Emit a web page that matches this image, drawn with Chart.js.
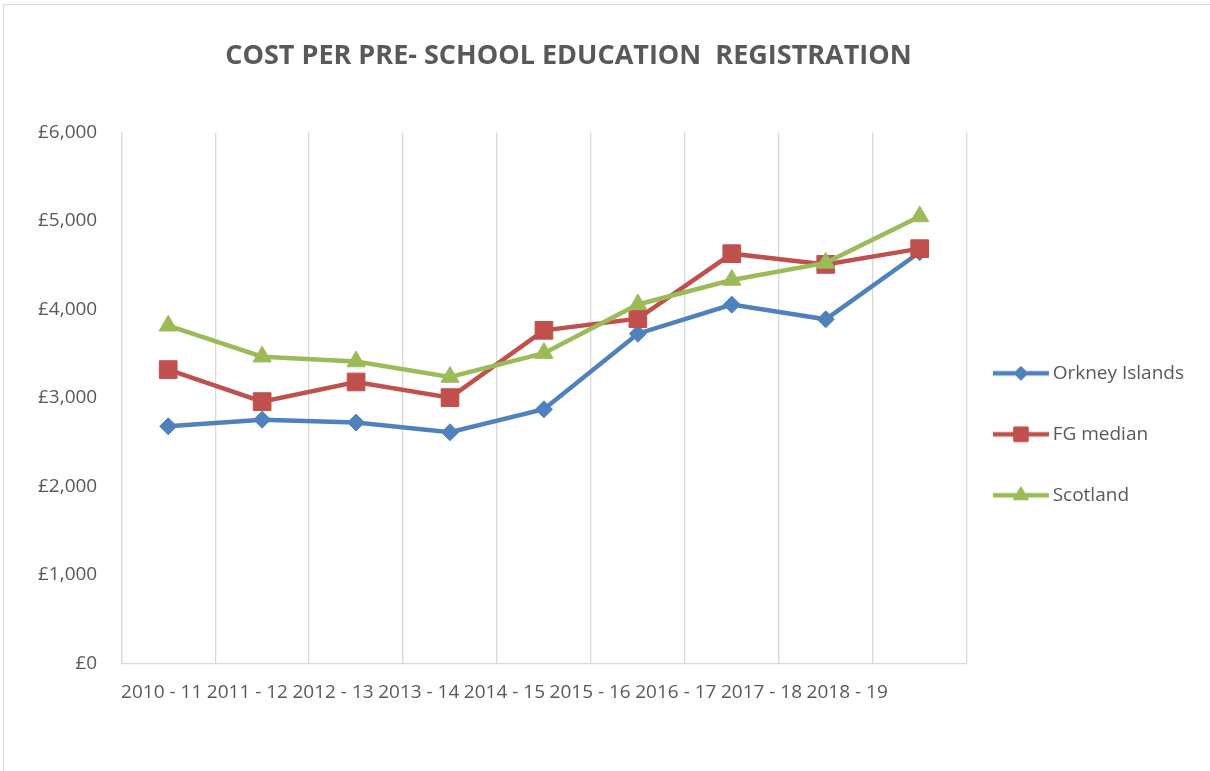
<!DOCTYPE html>
<html>
<head>
<meta charset="utf-8">
<title>Cost per pre-school education registration</title>
<script src="https://cdn.jsdelivr.net/npm/chart.js@4.4.1/dist/chart.umd.min.js"></script>
<style>
  html, body { margin: 0; padding: 0; background: #fff; }
  #frame {
    position: absolute;
    left: 3px;
    top: 4px;
    width: 1206px;
    height: 766px;
    border-top: 1px solid #d9d9d9;
    border-left: 1px solid #d9d9d9;
  }
</style>
</head>
<body>
<div id="frame"><canvas id="myChart"></canvas></div>
<script>
'use strict';

let years = ['2010 - 11', '2011 - 12', '2012 - 13', '2013 - 14', '2014 - 15', '2015 - 16', '2016 - 17', '2017 - 18', '2018 - 19'];
let orkney = [2678, 2753, 2720, 2610, 2870, 3725, 4053, 3887, 4645];
let fgMedian = [3319, 2957, 3179, 3002, 3763, 3895, 4629, 4508, 4686];
let scotland = [3815, 3465, 3410, 3235, 3505, 4055, 4332, 4525, 5050];
let yTicks = [0, 1000, 2000, 3000, 4000, 5000, 6000];

const grey = '#595959';
const gridGrey = '#d9d9d9';

Chart.defaults.font.family = '"Open Sans", sans-serif';
Chart.defaults.color = grey;

// small picture of line + marker for the legend, like excel does
function legendSample(color, style, radius) {
  let c = document.createElement('canvas');
  c.width = 66;
  c.height = 26;
  let ctx = c.getContext('2d');
  ctx.strokeStyle = color;
  ctx.lineWidth = 4.5;
  ctx.beginPath();
  ctx.moveTo(0, 13);
  ctx.lineTo(56, 13);
  ctx.stroke();
  ctx.fillStyle = color;
  ctx.lineWidth = 1;
  Chart.helpers.drawPoint(ctx, { pointStyle: style, radius: radius, borderWidth: 1, rotation: 0 }, 28, 13);
  ctx.fill();
  ctx.stroke();
  return c;
}

function createChart() {
  let series = [
    { label: 'Orkney Islands', data: orkney, color: '#4f81bd', style: 'rectRot', radius: 8.5, order: 2 },
    { label: 'FG median', data: fgMedian, color: '#c0504d', style: 'rect', radius: 12.5, order: 1 },
    { label: 'Scotland', data: scotland, color: '#9bbb59', style: 'triangle', radius: 10.5, order: 0 }
  ];

  let samples = [];
  let datasets = [];
  for (let i = 0; i < series.length; i++) {
    let s = series[i];
    samples.push(legendSample(s.color, s.style, s.radius * 0.8));
    datasets.push({
      label: s.label,
      data: s.data,
      borderColor: s.color,
      backgroundColor: s.color,
      borderWidth: 4.5,
      tension: 0,
      pointStyle: s.style,
      pointRadius: s.radius,
      pointHoverRadius: s.radius,
      pointBackgroundColor: s.color,
      pointBorderColor: s.color,
      pointBorderWidth: 1,
      order: s.order
    });
  }

  let ctx = document.getElementById('myChart').getContext('2d');

  let myChart = new Chart(ctx, {
    type: 'line',
    data: {
      labels: years,
      datasets: datasets
    },
    options: {
      responsive: true,
      maintainAspectRatio: false,
      animation: false,
      layout: {
        padding: { left: 10, right: 16, top: 0, bottom: 49 }
      },
      plugins: {
        title: {
          display: true,
          // leading spaces nudge the centred title a little right, as in the excel original
          text: '       COST PER PRE- SCHOOL EDUCATION  REGISTRATION',
          fullSize: false,
          color: grey,
          font: { size: 27, weight: 'bold' },
          padding: { top: 35, bottom: 60 }
        },
        legend: {
          position: 'right',
          fullSize: false,
          title: {
            display: true,
            text: ' ',
            font: { size: 10 },
            padding: { top: 0, bottom: 61 }
          },
          labels: {
            usePointStyle: true,
            pointStyleWidth: 34.5,
            padding: 42,
            color: grey,
            font: { size: 19 },
            sort: (a, b) => a.datasetIndex - b.datasetIndex,
            generateLabels: function (chart) {
              let items = Chart.defaults.plugins.legend.labels.generateLabels(chart);
              items.forEach(item => { item.pointStyle = samples[item.datasetIndex]; });
              return items;
            }
          }
        },
        tooltip: { enabled: false }
      },
      scales: {
        x: {
          offset: true,
          grid: { display: true, offset: true, color: gridGrey, lineWidth: 1.3, drawTicks: false },
          border: { display: true, color: gridGrey, width: 1.3 },
          ticks: { display: false }
        },
        // excel packs the year labels tighter than the categories, so a second axis carries them
        x2: {
          type: 'linear',
          position: 'bottom',
          min: -0.472,
          max: 9.394,
          grid: { display: false, drawTicks: false },
          border: { display: false },
          afterFit: function (axis) {
            axis.paddingLeft = 0;
            axis.paddingRight = 0;
          },
          ticks: {
            stepSize: 1,
            autoSkip: false,
            maxRotation: 0,
            includeBounds: false,
            padding: 18,
            color: grey,
            font: { size: 19 },
            callback: function (value) {
              return years[value] !== undefined ? years[value] : '';
            }
          }
        },
        y: {
          min: 0,
          max: 6000,
          grid: { display: false, drawTicks: false },
          border: { display: true, color: gridGrey, width: 1.3 },
          afterBuildTicks: function (axis) {
            axis.ticks = yTicks.map(v => ({ value: v }));
          },
          ticks: {
            padding: 24,
            color: grey,
            font: { size: 19 },
            callback: function (value) {
              return '£' + value.toLocaleString('en-GB');
            }
          }
        }
      }
    }
  });
  return myChart;
}

createChart();
</script>
</body>
</html>
